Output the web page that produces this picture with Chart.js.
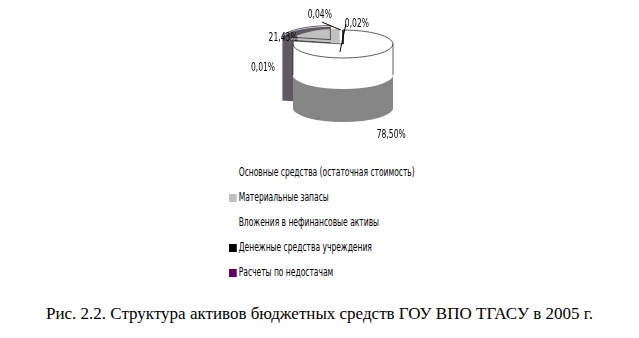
<!DOCTYPE html>
<html>
<head>
<meta charset="utf-8">
<script src="https://cdn.jsdelivr.net/npm/chart.js@4.4.1/dist/chart.umd.min.js"></script>
<style>
  body { margin: 0; background: #fff; width: 639px; height: 338px; overflow: hidden; position: relative; }
  #wrap { position: absolute; left: 0; top: 0; width: 639px; height: 160px; }
  #legend { position: absolute; left: 229px; top: 162px; font-family: "DejaVu Sans Condensed", "DejaVu Sans", sans-serif; font-size: 13px; color: #000; transform: scaleX(0.646); transform-origin: 0 0; }
  #legend div { height: 25px; line-height: 19px; white-space: nowrap; }
  #legend span.box { display: inline-block; width: 12px; height: 8px; margin-right: 3px; vertical-align: -1px; }
  #caption { position: absolute; left: 0; width: 639px; top: 304px; text-align: center; font-family: "Liberation Serif", serif; font-size: 17px; color: #000; }
</style>
</head>
<body>
<div id="wrap"><canvas id="chart"></canvas></div>
<div id="legend"></div>
<div id="caption">Рис. 2.2. Структура активов бюджетных средств ГОУ ВПО ТГАСУ в 2005 г.</div>
<script>
const labels = [
  'Основные средства (остаточная стоимость)',
  'Материальные запасы',
  'Вложения в нефинансовые активы',
  'Денежные средства учреждения',
  'Расчеты по недостачам'
];
const shares = [78.50, 21.43, 0.04, 0.02, 0.01];
const topColors = ['#ffffff', '#c0c0c0', '#ffffff', '#000000', '#660066'];
const sideColors = ['#868686', '#5f5a62', '#bbbbbb', '#000000', '#4a004a'];

const tilt = 0.28;      // vertical squash of the pie
const depth = 64;       // height of the cylinder side
const whiteBand = 31;   // upper part of the side is left white
const topY = 44;        // where the top face centre ends up

function fmt(v) {
  return v.toFixed(2).replace('.', ',') + '%';
}

function arcCentre(arc) {
  const mid = (arc.startAngle + arc.endAngle) / 2;
  const off = arc.options.offset || 0;
  return { x: arc.x + Math.cos(mid) * off, y: arc.y + Math.sin(mid) * off, mid: mid };
}

const pie3d = {
  id: 'pie3d',
  beforeDatasetsDraw(chart) {
    const ctx = chart.ctx;
    const arcs = chart.getDatasetMeta(0).data;
    const cx = arcs[0].x, cy = arcs[0].y;
    ctx.save();
    ctx.translate(cx, topY);
    ctx.scale(1, tilt);
    ctx.translate(-cx, -cy);
    // side walls, drawn from the bottom up
    for (let d = depth; d > 0; d--) {
      arcs.forEach((arc, i) => {
        const c = arcCentre(arc);
        let col = sideColors[i];
        if (i === 0 && d <= whiteBand) col = '#ffffff';
        ctx.fillStyle = col;
        ctx.beginPath();
        ctx.moveTo(c.x, c.y + d / tilt);
        ctx.arc(c.x, c.y + d / tilt, arc.outerRadius, arc.startAngle, arc.endAngle);
        ctx.closePath();
        ctx.fill();
      });
    }
  },
  afterDatasetsDraw(chart, args, opts) {
    const ctx = chart.ctx;
    ctx.restore();
    const arcs = chart.getDatasetMeta(0).data;
    const cx = arcs[0].x, cy = arcs[0].y;
    const toScreen = (x, y) => ({ x: x, y: topY + (y - cy) * tilt });

    ctx.save();
    ctx.strokeStyle = '#333';
    ctx.lineWidth = 0.8;
    // outline of each top face
    arcs.forEach(arc => {
      const c = arcCentre(arc);
      const p = toScreen(c.x, c.y);
      ctx.beginPath();
      ctx.moveTo(p.x, p.y);
      ctx.ellipse(p.x, p.y, arc.outerRadius, arc.outerRadius * tilt, 0, arc.startAngle, arc.endAngle);
      ctx.closePath();
      ctx.stroke();
    });
    // edges of the white band of the side
    const big = arcs[0];
    [0, Math.PI].forEach(a => {
      const x = cx + Math.cos(a) * big.outerRadius;
      ctx.beginPath();
      ctx.moveTo(x, topY);
      ctx.lineTo(x, topY + whiteBand);
      ctx.stroke();
    });

    // percentage labels
    ctx.fillStyle = '#000';
    ctx.font = '13px "DejaVu Sans Condensed", "DejaVu Sans", sans-serif';
    ctx.textAlign = 'center';
    ctx.textBaseline = 'middle';
    ctx.strokeStyle = '#000';
    ctx.lineWidth = 1;
    arcs.forEach((arc, i) => {
      const c = arcCentre(arc);
      const rim = toScreen(c.x + Math.cos(c.mid) * arc.outerRadius, c.y + Math.sin(c.mid) * arc.outerRadius);
      const n = opts.offsets[i];
      const lx = rim.x + n.dx, ly = rim.y + n.dy;
      if (n.leader) {
        ctx.beginPath();
        ctx.moveTo(rim.x + n.leader[0], rim.y + n.leader[1]);
        ctx.lineTo(lx + n.leader[2], ly + n.leader[3]);
        ctx.stroke();
      }
      ctx.save();
      ctx.translate(lx, ly);
      ctx.scale(0.65, 1);
      ctx.fillText(fmt(chart.data.datasets[0].data[i]), 0, 0);
      ctx.restore();
    });
    ctx.restore();
  }
};

const chart = new Chart(document.getElementById('chart'), {
  type: 'pie',
  data: {
    labels: labels,
    datasets: [{
      data: shares,
      backgroundColor: topColors,
      borderWidth: 0,
      offset: [0, 20, 0, 0, 0],
      radius: 50,
      clip: false
    }]
  },
  options: {
    responsive: true,
    maintainAspectRatio: false,
    animation: false,
    rotation: 0,
    layout: { padding: { left: 293, right: 246, top: 0, bottom: 60 } },
    plugins: {
      legend: { display: false },
      tooltip: { enabled: false },
      pie3d: {
        offsets: [
          { dx: 17, dy: 80 },
          { dx: -16, dy: 9 },
          { dx: -23, dy: -15, leader: [-2, 0, 2, 7] },
          { dx: 14, dy: -6, leader: [-3, 22, -11, 0] },
          { dx: -80, dy: 38 }
        ]
      }
    }
  },
  plugins: [pie3d]
});

const legend = document.getElementById('legend');
labels.forEach((name, i) => {
  const row = document.createElement('div');
  row.innerHTML = '<span class="box" style="background:' + topColors[i] + '"></span>' + name;
  legend.appendChild(row);
});
</script>
</body>
</html>
